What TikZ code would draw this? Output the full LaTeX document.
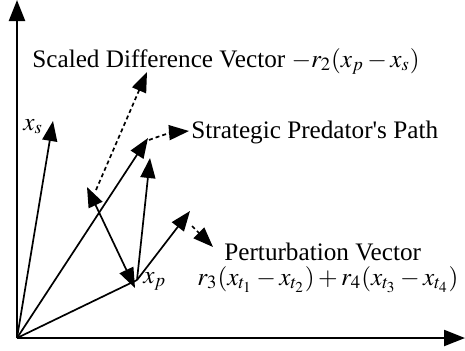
\documentclass[tikz,border=0pt]{standalone}
\usepackage{mathptmx}
\usepackage[no-math]{fontspec}
\setmainfont{Liberation Serif}
\usetikzlibrary{arrows.meta}
\begin{document}
\begin{tikzpicture}[x=0.5pt,y=-0.5pt,
  axis/.style={line width=1.1pt,-{Triangle[length=10.5pt,width=8pt]}},
  vec/.style={line width=0.85pt,-{Triangle[length=10pt,width=7.5pt]}},
  dvec/.style={vec,dash pattern=on 2pt off 1.5pt},
  lbl/.style={anchor=base west,inner sep=0pt,font=\fontsize{12.6}{15}\selectfont}]
\useasboundingbox (0,0) rectangle (465,350);
% points
\coordinate (O) at (17,338);
\coordinate (Ytip) at (17,0);
\coordinate (Xtip) at (465,338);
\coordinate (XS) at (53,121);
\coordinate (NEW) at (148,138);
\coordinate (XP) at (135,288);
\coordinate (XPs) at (137,280);
\coordinate (A) at (87,187);
\coordinate (B) at (150,158);
\coordinate (C) at (190,211);
\coordinate (D1s) at (96,190);
\coordinate (D1e) at (147,72);
\coordinate (D2s) at (149,140);
\coordinate (D2e) at (189,131);
\coordinate (D3s) at (192,226);
\coordinate (D3e) at (213,247);
% axes
\draw[axis] (O) -- (Ytip);
\draw[axis] (O) -- (Xtip);
% vectors
\draw[vec] (O) -- (XS);
\draw[vec] (O) -- (NEW);
\draw[line width=0.85pt] (O) -- (XPs);
\draw[vec,{Triangle[length=10pt,width=7.5pt]}-{Triangle[length=10pt,width=7.5pt]}] (A) -- (XP);
\draw[vec] (XPs) -- (B);
\draw[vec] (XPs) -- (C);
% dashed
\draw[dvec] (D1s) -- (D1e);
\draw[dvec] (D2s) to[bend left=8] (D2e);
\draw[dvec] (D3s) -- (D3e);
% labels
\node[lbl] (t1) at (32,67) {Scaled Difference Vector $-r_2(x_p-x_s)$};
\node[lbl] (t2) at (191,138) {Strategic Predator\textquotesingle s Path};
\node[lbl] (t3) at (224,260) {Perturbation Vector};
\node[lbl] (t4) at (197,285) {$r_3(x_{t_1}-x_{t_2})+r_4(x_{t_3}-x_{t_4})$};
\node[lbl] (lxs) at (23,130) {$x_s$};
\node[lbl] (lxp) at (143,283) {$x_p$};
\end{tikzpicture}
\end{document}
